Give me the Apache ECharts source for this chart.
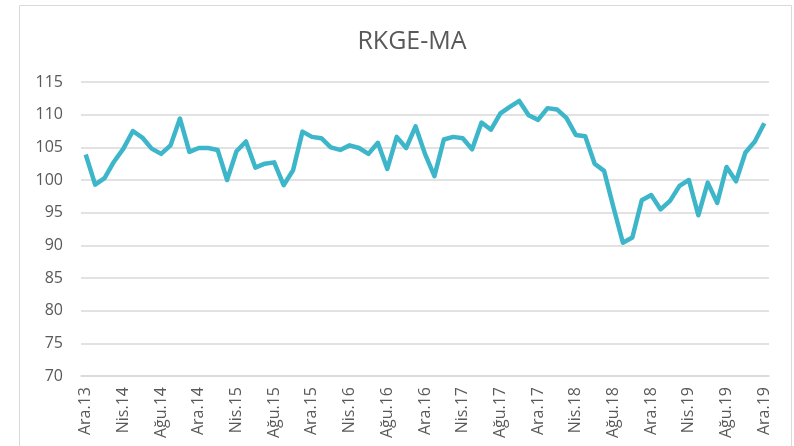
<!DOCTYPE html>
<html>
<head>
<meta charset="utf-8">
<title>RKGE-MA</title>
<script src="https://cdn.jsdelivr.net/npm/echarts@6/dist/echarts.min.js"></script>
<style>
  html, body { margin: 0; padding: 0; background: #fff; }
  #chart { width: 794px; height: 446px; }
</style>
</head>
<body>
<div id="chart"></div>
<script>
// ay kısaltmaları ve yıllar (Ara.13 - Ara.19)
var aylar = ['Oca', 'Şub', 'Mar', 'Nis', 'May', 'Haz', 'Tem', 'Ağu', 'Eyl', 'Eki', 'Kas', 'Ara'];
var yillar = ['13', '14', '15', '16', '17', '18', '19'];

var kategoriler = ['Ara.13'];
for (var y = 1; y < yillar.length; y++) {
    for (var m = 0; m < aylar.length; m++) {
        kategoriler.push(aylar[m] + '.' + yillar[y]);
    }
}

var rkgeMA = [
    103.9, 99.3, 100.3, 102.8, 104.8, 107.5, 106.5, 104.8, 104.0, 105.3, 109.4, 104.3, 104.9,
    104.9, 104.6, 100.0, 104.4, 105.9, 101.9, 102.5, 102.7, 99.2, 101.5, 107.4, 106.6,
    106.4, 105.0, 104.6, 105.3, 104.9, 104.0, 105.7, 101.7, 106.6, 104.9, 108.2, 104.0,
    100.6, 106.2, 106.6, 106.4, 104.7, 108.8, 107.7, 110.2, 111.2, 112.1, 109.9, 109.2,
    111.0, 110.8, 109.5, 106.9, 106.7, 102.5, 101.4, 95.8, 90.4, 91.2, 96.9, 97.7,
    95.5, 96.8, 99.1, 100.0, 94.6, 99.6, 96.5, 102.0, 99.8, 104.2, 105.9, 108.7
];

var yMin = 70, yMax = 115, yAdim = 5;

var myChart = echarts.init(document.getElementById('chart'));

myChart.setOption({
    animation: false,
    textStyle: { fontFamily: 'Open Sans' },
    graphic: [{
        type: 'rect',
        shape: { x: 19.5, y: 5.5, width: 772, height: 460 },
        style: { fill: 'none', stroke: '#d9d9d9', lineWidth: 1 },
        silent: true
    }],
    title: {
        text: 'RKGE-MA',
        left: 407,
        top: 24,
        textAlign: 'center',
        textStyle: { color: '#595959', fontSize: 25, fontWeight: 'normal', fontFamily: 'Open Sans' }
    },
    grid: { left: 81, right: 25, top: 82, bottom: 70 },
    xAxis: {
        type: 'category',
        data: kategoriler,
        boundaryGap: true,
        axisLine: { lineStyle: { color: '#d9d9d9', width: 1.5 } },
        axisTick: { interval: 3, length: 5, lineStyle: { color: '#d9d9d9', width: 1.5 } },
        axisLabel: { interval: 3, rotate: 90, margin: 11, color: '#595959', fontSize: 16 }
    },
    yAxis: {
        type: 'value',
        min: yMin,
        max: yMax,
        interval: yAdim,
        axisLine: { show: false },
        axisTick: { show: false },
        axisLabel: { margin: 18, color: '#595959', fontSize: 16 },
        splitLine: { lineStyle: { color: '#d9d9d9', width: 1.5 } }
    },
    series: [{
        name: 'RKGE-MA',
        type: 'line',
        data: rkgeMA,
        symbol: 'none',
        lineStyle: { color: '#3db6ca', width: 4.5, join: 'round' }
    }]
});
</script>
</body>
</html>
